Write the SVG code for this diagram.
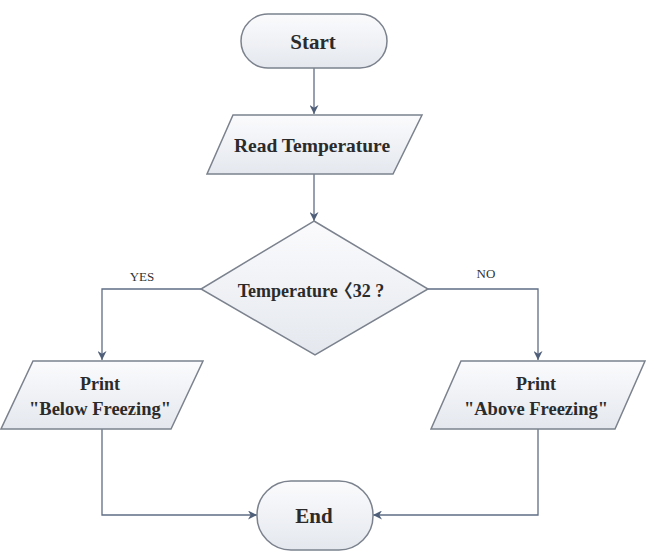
<svg xmlns="http://www.w3.org/2000/svg" width="647" height="551" viewBox="0 0 647 551">
<defs>
<linearGradient id="g" x1="0" y1="0" x2="0" y2="1">
<stop offset="0" stop-color="#fbfbfd"/>
<stop offset="1" stop-color="#e4e8ee"/>
</linearGradient>
<marker id="arr" viewBox="0 0 10 10" refX="10" refY="5" markerWidth="9" markerHeight="9" markerUnits="userSpaceOnUse" orient="auto">
<path d="M0,0 L10,5 L0,10 L3,5 Z" fill="#4f5f7a"/>
</marker>
</defs>
<style>
.shape{fill:url(#g);stroke:#7b828d;stroke-width:1.5}
.lbl{font-family:"Liberation Serif","Noto Sans CJK SC",serif;font-weight:bold;fill:#2b2b2b;text-anchor:middle}
.edge{fill:none;stroke:#5f6d85;stroke-width:1.3;marker-end:url(#arr)}
.elbl{font-family:"Liberation Serif",serif;font-size:13px;fill:#333;text-anchor:middle}
</style>
<rect width="647" height="551" fill="#ffffff"/>
<g id="connectors">
<path class="edge" d="M314,68 L314,114"/>
<path class="edge" d="M314,174 L314,221"/>
<path class="edge" d="M201,289 L102,289 L102,360"/>
<path class="edge" d="M428,289 L538,289 L538,360"/>
<path class="edge" d="M102,429 L102,515 L257,515"/>
<path class="edge" d="M538,429 L538,515 L373,515"/>
<text class="elbl" x="142" y="281">YES</text>
<text class="elbl" x="486" y="278">NO</text>
</g>
<g id="start">
<rect class="shape" x="241" y="14" width="146" height="54" rx="27" ry="27"/>
<text class="lbl" x="313" y="49" font-size="21">Start</text>
</g>
<g id="read">
<polygon class="shape" points="233,115 422,115 393,174 207,174"/>
<text class="lbl" x="312" y="152" font-size="19.5">Read Temperature</text>
</g>
<g id="decision">
<polygon class="shape" points="314,221 428,289 315,355 201,289"/>
<text class="lbl" x="311" y="297" font-size="18">Temperature<tspan dx="-3">〈32 ?</tspan></text>
</g>
<g id="below">
<polygon class="shape" points="33,361 203,361 171,429 1,429"/>
<text class="lbl" x="100" y="390" font-size="18">Print</text>
<text class="lbl" x="100" y="415" font-size="18.5">"Below Freezing"</text>
</g>
<g id="above">
<polygon class="shape" points="461,361 645,361 615,429 431,429"/>
<text class="lbl" x="536" y="390" font-size="18">Print</text>
<text class="lbl" x="536" y="415" font-size="18.5">"Above Freezing"</text>
</g>
<g id="end">
<rect class="shape" x="257" y="481" width="116" height="69" rx="34" ry="34"/>
<text class="lbl" x="314" y="523" font-size="21">End</text>
</g>
</svg>
